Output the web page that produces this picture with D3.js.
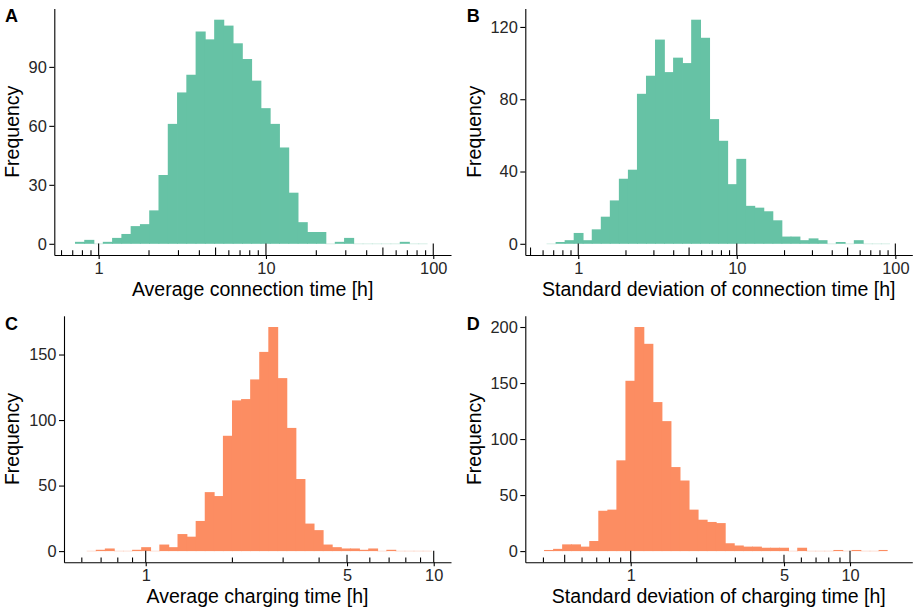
<!DOCTYPE html>
<html>
<head>
<meta charset="utf-8">
<script src="https://cdn.jsdelivr.net/npm/d3@7"></script>
<style>
    body { margin: 0; background: #fff; }
    text { font-family: "Liberation Sans", Arial, sans-serif; }
</style>
</head>
<body>
<div id="chart"></div>
<script>
// histogram counts, one per log bin
const countsA = [1, 2, 0, 1, 3, 5, 9, 10, 17, 35, 61, 77, 86, 108, 104, 114, 111, 102, 94, 83,
    69, 61, 49, 26, 11, 6, 6, 0, 1, 3, 0, 0, 0, 0, 0, 1, 0, 0]
const countsB = [0, 1, 2, 6, 2, 8, 15, 24, 36, 41, 83, 93, 113, 95, 103, 100, 124, 114, 69, 57,
    33, 47, 21, 20, 18, 13, 4, 4, 2, 3, 2, 0, 1, 0, 2, 0, 0, 0]
const countsC = [0, 1, 2, 0, 0, 1, 3, 0, 5, 3, 13, 11, 23, 45, 42, 88, 115, 116, 131, 152,
    171, 132, 94, 55, 21, 16, 5, 3, 2, 2, 1, 2, 0, 1, 0, 0, 0, 0]
const countsD = [1, 2, 6, 6, 4, 9, 36, 37, 81, 152, 200, 185, 133, 116, 75, 63, 37, 28, 26, 25,
    7, 5, 4, 4, 3, 3, 3, 0, 3, 0, 0, 0, 1, 0, 1, 0, 0, 1]

// log10 of first bin edge and bin width (log10 units)
const binStart = [-0.1414, -0.1998, -0.2049, -0.3951]
const binWidth = [0.05546, 0.0570, 0.03153, 0.04123]

// x limits in log10 units
const xLimits = [[-0.265, 2.106], [-0.334, 2.107], [-0.2837, 1.060], [-0.4806, 1.284]]

const xTickValues = [[1, 10, 100], [1, 10, 100], [1, 5, 10], [1, 5, 10]]
const yTickValues = [[0, 30, 60, 90], [0, 40, 80, 120], [0, 50, 100, 150], [0, 50, 100, 150, 200]]

const panelLetters = ["A", "B", "C", "D"]
const xTitles = ["Average connection time [h]", "Standard deviation of connection time [h]",
    "Average charging time [h]", "Standard deviation of charging time [h]"]
const fillColors = ["#66c2a5", "#66c2a5", "#fc8d62", "#fc8d62"]

const width = 915
const height = 611

const svg = d3.select("#chart")
    .append("svg")
    .attr("width", width)
    .attr("height", height)

// plot boxes: left/right of x axis line, top/bottom of panel
const boxes = [
    {left: 54.3, right: 451, top: 8.5, bottom: 255, ox: 0, oy: 0},
    {left: 525.3, right: 912.3, top: 8.5, bottom: 255, ox: 461.7, oy: 0},
    {left: 64, right: 451, top: 315.8, bottom: 562.3, ox: 0, oy: 308},
    {left: 525.3, right: 912.3, top: 315.8, bottom: 562.3, ox: 461.7, oy: 308}
]

const allCounts = [countsA, countsB, countsC, countsD]

allCounts.forEach((counts, p) => drawPanel(p, counts))

function drawPanel(p, counts) {
    const box = boxes[p]
    const g = svg.append("g")

    const x = d3.scaleLog()
        .domain(xLimits[p].map(v => Math.pow(10, v)))
        .range([box.left, box.right])

    const maxCount = d3.max(counts)
    const y = d3.scaleLinear()
        .domain([-0.05 * maxCount, 1.05 * maxCount])
        .range([box.bottom, box.top])

    const bins = counts.map((c, i) => ({
        x0: Math.pow(10, binStart[p] + i * binWidth[p]),
        x1: Math.pow(10, binStart[p] + (i + 1) * binWidth[p]),
        count: c,
        last: i === counts.length - 1
    }))

    // bars (slight overlap so no seams show between neighbours)
    g.append("g")
        .selectAll("rect")
        .data(bins)
        .enter()
        .append("rect")
        .attr("x", d => x(d.x0))
        .attr("width", d => x(d.x1) - x(d.x0) + (d.last ? 0 : 0.8))
        .attr("y", d => d.count > 0 ? y(d.count) : y(0) - 0.5)
        .attr("height", d => d.count > 0 ? y(0) - y(d.count) : 1)
        .attr("fill", fillColors[p])
        .attr("fill-opacity", d => d.count > 0 ? 1 : 0.25)

    // log ticks drawn inside the panel from the bottom
    const logTicks = []
    const lo = Math.floor(xLimits[p][0]), hi = Math.ceil(xLimits[p][1])
    for (let d = lo; d <= hi; d++) {
        for (let k = 1; k <= 9; k++) {
            const v = k * Math.pow(10, d)
            if (Math.log10(v) >= xLimits[p][0] && Math.log10(v) <= xLimits[p][1])
                logTicks.push({v: v, len: k === 1 ? 11.5 : (k === 5 ? 7.5 : 4.8)})
        }
    }
    g.append("g")
        .selectAll("line")
        .data(logTicks)
        .enter()
        .append("line")
        .attr("x1", d => x(d.v))
        .attr("x2", d => x(d.v))
        .attr("y1", box.bottom)
        .attr("y2", d => box.bottom - d.len)
        .attr("stroke", "#000")
        .attr("stroke-width", 1.1)

    // x axis
    const xAxis = g.append("g")
        .attr("transform", "translate(0," + box.bottom + ")")
        .call(d3.axisBottom(x)
            .tickValues(xTickValues[p])
            .tickFormat(d3.format("d"))
            .tickSizeInner(4)
            .tickSizeOuter(0)
            .tickPadding(3))
    xAxis.select(".domain").attr("stroke-width", 1.1)
    xAxis.selectAll(".tick line").attr("stroke-width", 1.1)
    xAxis.selectAll(".tick text")
        .attr("font-size", "16.4px")
        .attr("fill", "#262626")
        .attr("font-family", "Liberation Sans, Arial, sans-serif")

    // y axis
    const yAxis = g.append("g")
        .attr("transform", "translate(" + box.left + ",0)")
        .call(d3.axisLeft(y)
            .tickValues(yTickValues[p])
            .tickSizeInner(5)
            .tickSizeOuter(0)
            .tickPadding(2.5))
    yAxis.select(".domain").attr("stroke-width", 1.1)
    yAxis.selectAll(".tick line").attr("stroke-width", 1.1)
    yAxis.selectAll(".tick text")
        .attr("font-size", "16.4px")
        .attr("fill", "#262626")
        .attr("font-family", "Liberation Sans, Arial, sans-serif")

    // X axis label
    g.append("text")
        .attr("text-anchor", "middle")
        .attr("x", (box.left + box.right) / 2)
        .attr("y", box.bottom + 41)
        .attr("font-size", "19.5px")
        .attr("fill", "#000")
        .text(xTitles[p])

    // Y axis label
    g.append("text")
        .attr("text-anchor", "middle")
        .attr("transform", "translate(" + (box.ox + 19.3) + "," + ((box.top + box.bottom) / 2) + ") rotate(-90)")
        .attr("font-size", "19.5px")
        .attr("fill", "#000")
        .text("Frequency")

    // panel letter
    g.append("text")
        .attr("x", box.ox + 5)
        .attr("y", box.oy + 21.5)
        .attr("font-size", "18px")
        .attr("font-weight", "bold")
        .attr("fill", "#000")
        .text(panelLetters[p])
}
</script>
</body>
</html>
